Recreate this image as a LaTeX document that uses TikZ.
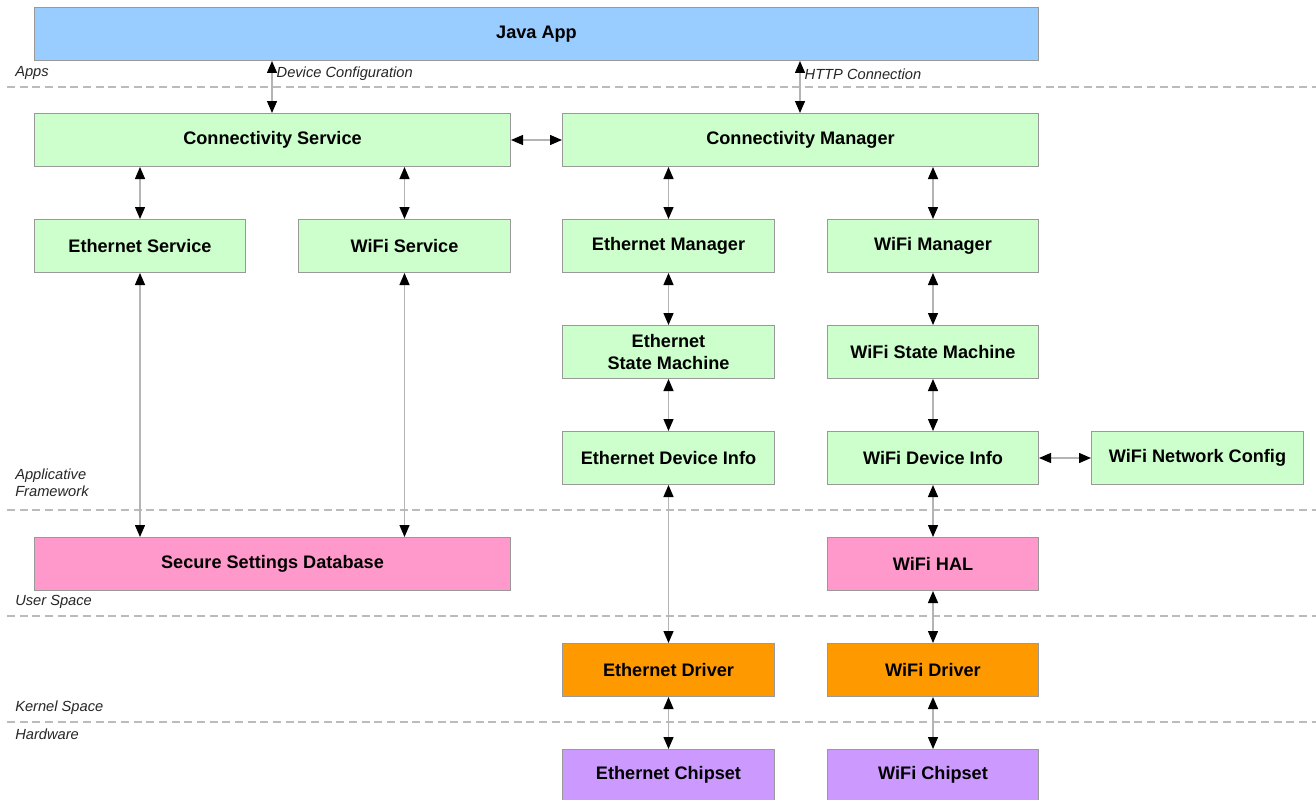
\documentclass[tikz,border=0pt]{standalone}
\usepackage{fontspec}
\setmainfont{Liberation Sans}
\usetikzlibrary{arrows.meta}
\definecolor{appblue}{HTML}{99CCFF}
\definecolor{fwgreen}{HTML}{CCFFCC}
\definecolor{userpink}{HTML}{FF99CC}
\definecolor{kernorange}{HTML}{FF9900}
\definecolor{hwpurple}{HTML}{CC99FF}
\definecolor{edge}{HTML}{999999}
\definecolor{wire}{HTML}{B4B4B4}
\definecolor{sep}{HTML}{BBBBBB}
\tikzset{
  x=0.75pt, y=-0.75pt,
  blk/.style={draw=edge, line width=0.75pt, font=\bfseries\fontsize{13.6}{17}\selectfont, align=center, inner sep=0pt},
  tip/.style={Triangle[width=7.5pt,length=9pt,black]},
  link/.style={draw=wire, line width=1pt, {Triangle[width=7.5pt,length=9pt,black]}-{Triangle[width=7.5pt,length=9pt,black]}},
  layer/.style={draw=sep, line width=0.9pt, dash pattern=on 6pt off 3.5pt},
  tag/.style={font=\itshape\fontsize{11}{13}\selectfont, anchor=west, inner sep=0pt, text=black!85},
}
% block spanning (x1,y1)-(x2,y2) in pixel units
\newcommand{\blkbox}[7]{%
  \node[blk, fill=#2, minimum width=#5*0.75pt-#3*0.75pt, minimum height=#6*0.75pt-#4*0.75pt, anchor=north west] (#1) at (#3,#4) {#7};}
\begin{document}
\begin{tikzpicture}
\useasboundingbox (0,0) rectangle (1316,799);
\fill[white] (0,0) rectangle (1316,799);

% layer separators
\foreach \yy in {87,510,616,722}
  \draw[layer] (7,\yy) -- (1316,\yy);

% layer names
\node[tag] (lApps) at (15,73) {Apps};
\node[tag, align=left] (lFw) at (15,483) {Applicative\\Framework};
\node[tag] (lUser) at (15,602) {User Space};
\node[tag] (lKern) at (15,708) {Kernel Space};
\node[tag] (lHw) at (15,734) {Hardware};

% blocks
\blkbox{java}{appblue}{34}{7}{1038}{60}{Java App}
\blkbox{cs}{fwgreen}{34}{113}{510}{166}{Connectivity Service}
\blkbox{cm}{fwgreen}{562}{113}{1038}{166}{Connectivity Manager}
\blkbox{es}{fwgreen}{34}{219}{245}{272}{Ethernet Service}
\blkbox{ws}{fwgreen}{298}{219}{510}{272}{WiFi Service}
\blkbox{em}{fwgreen}{562}{219}{774}{272}{Ethernet Manager}
\blkbox{wm}{fwgreen}{827}{219}{1038}{272}{WiFi Manager}
\blkbox{esm}{fwgreen}{562}{325}{774}{378}{Ethernet\\State Machine}
\blkbox{wsm}{fwgreen}{827}{325}{1038}{378}{WiFi State Machine}
\blkbox{edi}{fwgreen}{562}{431}{774}{484}{Ethernet Device Info}
\blkbox{wdi}{fwgreen}{827}{431}{1038}{484}{WiFi Device Info}
\blkbox{wnc}{fwgreen}{1091}{431}{1303}{484}{WiFi Network Config}
\blkbox{ssd}{userpink}{34}{537}{510}{590}{Secure Settings Database}
\blkbox{hal}{userpink}{827}{537}{1038}{590}{WiFi HAL}
\blkbox{edrv}{kernorange}{562}{643}{774}{696}{Ethernet Driver}
\blkbox{wdrv}{kernorange}{827}{643}{1038}{696}{WiFi Driver}
\blkbox{ech}{hwpurple}{562}{749}{774}{800}{Ethernet Chipset}
\blkbox{wch}{hwpurple}{827}{749}{1038}{800}{WiFi Chipset}

% connectors
\draw[link] (java.south -| 272,0) -- (cs.north -| 272,0)
  node[pos=0.25, right=3pt, tag] (lDev) {Device Configuration};
\draw[link] (java.south -| 800,0) -- (cm.north -| 800,0)
  node[pos=0.25, right=3pt, tag] (lHttp) {HTTP Connection};
\draw[link] (cs.east) -- (cm.west);
\draw[link] (cs.south -| es.north) -- (es.north);
\draw[link] (cs.south -| ws.north) -- (ws.north);
\draw[link] (cm.south -| em.north) -- (em.north);
\draw[link] (cm.south -| wm.north) -- (wm.north);
\draw[link] (es.south) -- (ssd.north -| es.south);
\draw[link] (ws.south) -- (ssd.north -| ws.south);
\draw[link] (em.south) -- (esm.north);
\draw[link] (esm.south) -- (edi.north);
\draw[link] (edi.south) -- (edrv.north);
\draw[link] (edrv.south) -- (ech.north);
\draw[link] (wm.south) -- (wsm.north);
\draw[link] (wsm.south) -- (wdi.north);
\draw[link] (wdi.east) -- (wnc.west);
\draw[link] (wdi.south) -- (hal.north);
\draw[link] (hal.south) -- (wdrv.north);
\draw[link] (wdrv.south) -- (wch.north);
\end{tikzpicture}
\end{document}
